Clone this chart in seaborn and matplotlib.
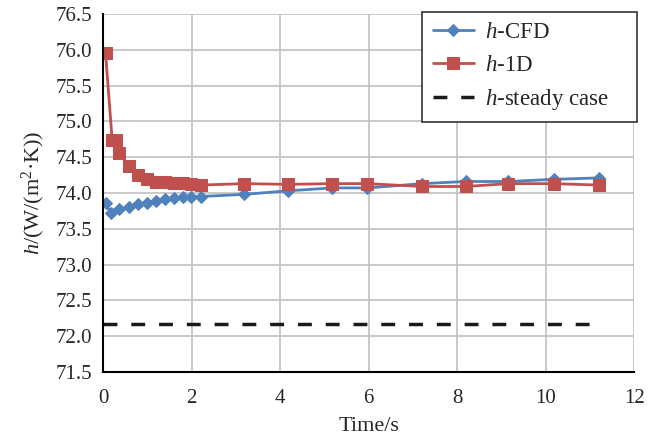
import numpy as np
import pandas as pd
import matplotlib
matplotlib.use("Agg")
import matplotlib.pyplot as plt
import seaborn as sns

# values
t_cfd = [0.05, 0.17, 0.36, 0.57, 0.78, 0.98, 1.19, 1.40, 1.60, 1.80, 1.99, 2.20,
         3.18, 4.18, 5.18, 5.97, 7.21, 8.19, 9.16, 10.18, 11.20]
h_cfd = [73.86, 73.72, 73.77, 73.81, 73.84, 73.86, 73.89, 73.91, 73.93, 73.94, 73.95, 73.95,
         73.98, 74.03, 74.07, 74.07, 74.13, 74.16, 74.16, 74.19, 74.21]

t_1d = [0.05, 0.20, 0.29, 0.36, 0.57, 0.78, 0.98, 1.19, 1.40, 1.60, 1.80, 1.99, 2.20,
        3.18, 4.18, 5.18, 5.97, 7.21, 8.19, 9.16, 10.18, 11.20]
h_1d = [75.95, 74.74, 74.74, 74.56, 74.37, 74.25, 74.19, 74.15, 74.15, 74.14, 74.14, 74.13, 74.11,
        74.13, 74.12, 74.13, 74.13, 74.09, 74.09, 74.13, 74.13, 74.11]

t_steady = [0.0, 11.0]
h_steady = [72.17, 72.17]

blue = "#4F81BD"
red = "#C0504D"

sns.set_style("ticks")
plt.rcParams["font.family"] = ["Liberation Serif", "DejaVu Serif"]
plt.rcParams["mathtext.fontset"] = "custom"
plt.rcParams["mathtext.rm"] = "Liberation Serif"
plt.rcParams["mathtext.it"] = "Liberation Serif:italic"

cfd = pd.DataFrame({"t": t_cfd, "h": h_cfd})
one_d = pd.DataFrame({"t": t_1d, "h": h_1d})
steady = pd.DataFrame({"t": t_steady, "h": h_steady})

fig, ax = plt.subplots(figsize=(6.71, 4.38), dpi=100)
fig.subplots_adjust(left=0.154, right=0.945, top=0.968, bottom=0.151)

sns.lineplot(data=cfd, x="t", y="h", ax=ax, color=blue, marker="D", markersize=6,
             markeredgecolor=blue, linewidth=2, label="$h$-CFD")
sns.lineplot(data=one_d, x="t", y="h", ax=ax, color=red, marker="s", markersize=9,
             markeredgecolor=red, linewidth=2, label="$h$-1D")
sns.lineplot(data=steady, x="t", y="h", ax=ax, color="#1a1a1a", linewidth=2.5,
             label="$h$-steady case")
ax.lines[-1].set_dashes((4, 4))

ax.set_xlim(0, 12)
ax.set_ylim(71.5, 76.5)
ax.set_xticks(np.arange(0, 13, 2))
ax.set_yticks(np.arange(71.5, 76.51, 0.5))
ax.set_yticklabels([f"{v:.1f}" for v in np.arange(71.5, 76.51, 0.5)])
ax.grid(True, color="#c0c0c4", linewidth=1.2)
ax.set_axisbelow(True)
for s in ["top", "right"]:
    ax.spines[s].set_visible(False)
for s in ["left", "bottom"]:
    ax.spines[s].set_color("black")
    ax.spines[s].set_linewidth(1.5)
ax.tick_params(axis="both", length=0, labelsize=15)
ax.tick_params(axis="x", pad=12)
ax.tick_params(axis="y", pad=8)

ax.set_xlabel("Time/s", fontsize=16, labelpad=7)
ax.set_ylabel("$h$/(W/(m$^2$·K))", fontsize=16, labelpad=6)

leg = ax.legend(loc="upper right", bbox_to_anchor=(1.006, 1.006), borderaxespad=0,
                fontsize=16.5, frameon=True, fancybox=False, edgecolor="#333333",
                framealpha=1, handlelength=1.8, handletextpad=0.5,
                borderpad=0.45, labelspacing=0.5)
leg.get_frame().set_linewidth(1.2)
# widen the frame a little on the right, as in the reference
for t in leg.get_texts():
    t.set_text(t.get_text() + "    ")

fig.savefig("out.png", dpi=100)
